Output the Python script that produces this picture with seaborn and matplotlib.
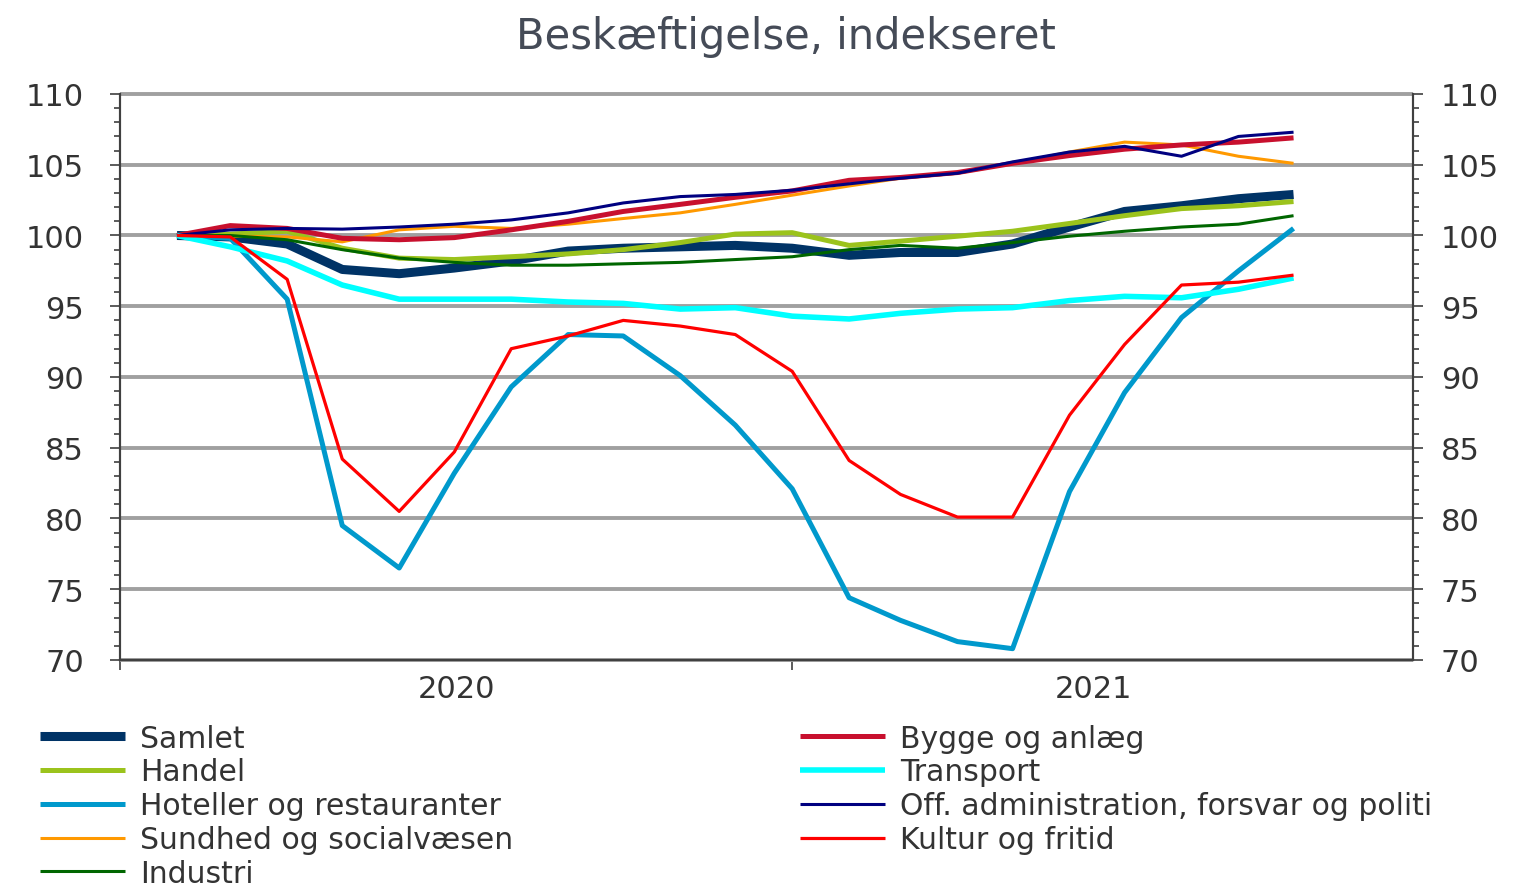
import numpy as np
import pandas as pd
import matplotlib
matplotlib.use("Agg")
import matplotlib.pyplot as plt
import matplotlib.dates as mdates
from matplotlib.ticker import MultipleLocator
import seaborn as sns

# data, index (feb 2020 = 100), monthly feb 2020 - okt 2021
dates = pd.date_range("2020-02-01", "2021-10-01", freq="MS")

samlet = [100, 99.9, 99.4, 97.6, 97.3, 97.7, 98.2, 98.9, 99.1, 99.2, 99.3,
          99.1, 98.6, 98.8, 98.8, 99.4, 100.6, 101.7, 102.1, 102.6, 102.9]
handel = [100, 100.1, 100.3, 99.1, 98.4, 98.3, 98.5, 98.7, 99.0, 99.5, 100.1,
          100.2, 99.3, 99.6, 99.95, 100.3, 100.85, 101.4, 101.9, 102.1, 102.4]
hoteller = [100, 99.8, 95.5, 79.5, 76.5, 83.2, 89.3, 93.0, 92.9, 90.1, 86.6,
            82.1, 74.4, 72.8, 71.3, 70.8, 81.9, 88.9, 94.2, 97.5, 100.5]
sundhed = [100, 99.95, 99.9, 99.55, 100.4, 100.65, 100.5, 100.8, 101.2, 101.6, 102.2,
           102.85, 103.5, 104.05, 104.4, 105.1, 105.9, 106.6, 106.4, 105.6, 105.1]
industri = [100, 100, 99.7, 99.0, 98.4, 98.1, 97.9, 97.9, 98.0, 98.1, 98.3,
            98.5, 99.0, 99.3, 99.1, 99.5, 99.95, 100.3, 100.6, 100.8, 101.4]
bygge = [100, 100.7, 100.5, 99.8, 99.7, 99.85, 100.4, 101.0, 101.7, 102.2, 102.7,
         103.15, 103.9, 104.1, 104.45, 105.1, 105.65, 106.1, 106.4, 106.6, 106.9]
transport = [100, 99.2, 98.2, 96.5, 95.5, 95.5, 95.5, 95.3, 95.2, 94.8, 94.9,
             94.3, 94.1, 94.5, 94.8, 94.9, 95.4, 95.7, 95.6, 96.2, 97.0]
off_adm = [100, 100.4, 100.5, 100.45, 100.6, 100.8, 101.1, 101.6, 102.3, 102.75, 102.9,
           103.2, 103.65, 104.05, 104.4, 105.2, 105.9, 106.3, 105.6, 107.0, 107.3]
kultur = [100, 99.9, 96.9, 84.2, 80.5, 84.7, 92.0, 92.9, 94.0, 93.6, 93.0,
          90.4, 84.1, 81.7, 80.1, 80.1, 87.3, 92.3, 96.5, 96.7, 97.2]

series = [
    ("Samlet", samlet, "#003366", 6.5),
    ("Handel", handel, "#9bc31c", 3.6),
    ("Hoteller og restauranter", hoteller, "#0099cc", 3.6),
    ("Sundhed og socialvæsen", sundhed, "#ff9900", 2.2),
    ("Industri", industri, "#006600", 2.2),
    ("Bygge og anlæg", bygge, "#c8102e", 3.6),
    ("Transport", transport, "#00ffff", 4.0),
    ("Off. administration, forsvar og politi", off_adm, "#000080", 2.2),
    ("Kultur og fritid", kultur, "#ff0000", 2.3),
]

sns.set_style("white")
plt.rcParams["font.family"] = ["DejaVu Sans"]
plt.rcParams["lines.solid_capstyle"] = "butt"
txt = "#333333"

fig = plt.figure(figsize=(15.16, 8.87), dpi=100)
ax = fig.add_axes([0.0792, 0.2548, 0.8528, 0.6381])

for name, vals, col, lw in series:
    sns.lineplot(x=dates, y=vals, ax=ax, color=col, linewidth=lw, label=name,
                 legend=False)

ax.set_ylim(70, 110)
ax.set_xlim(mdates.date2num(pd.Timestamp("2020-01-01")),
            mdates.date2num(pd.Timestamp("2021-12-05")))
ax.set_xlabel("")
ax.set_ylabel("")

# y axis both sides
ax.yaxis.set_major_locator(MultipleLocator(5))
ax.yaxis.set_minor_locator(MultipleLocator(1))
ax.tick_params(axis="y", which="major", length=7, width=1.2, color="#404040",
               labelsize=22, labelcolor=txt, pad=19, left=True)
ax.tick_params(axis="y", which="minor", length=4.5, width=1.2, color="#404040", left=True)
ax.yaxis.grid(True, color="#a0a0a0", linewidth=2.8)
ax.xaxis.grid(False)
for gl in ax.get_ygridlines():
    gl.set_clip_on(False)

ax2 = ax.twinx()
ax2.set_ylim(70, 110)
ax2.yaxis.set_major_locator(MultipleLocator(5))
ax2.yaxis.set_minor_locator(MultipleLocator(1))
ax2.tick_params(axis="y", which="major", length=7, width=1.2, color="#404040",
                labelsize=22, labelcolor=txt, pad=13, right=True)
ax2.tick_params(axis="y", which="minor", length=4.5, width=1.2, color="#404040", right=True)
ax2.grid(False)

# x axis: ticks at year boundaries, labels centred in each year
year_ticks = [pd.Timestamp("2020-01-01"), pd.Timestamp("2021-01-01")]
ax.set_xticks(mdates.date2num(year_ticks))
ax.set_xticklabels([])
label_pos = [pd.Timestamp("2020-07-02"), pd.Timestamp("2021-06-14")]
ax.set_xticks(mdates.date2num(label_pos), minor=True)
ax.set_xticklabels(["2020", "2021"], minor=True)
ax.tick_params(axis="x", which="major", length=7, width=1.2, color="#404040", bottom=True)
ax.tick_params(axis="x", which="minor", length=0, labelsize=22, labelcolor=txt, pad=10)

for a in (ax, ax2):
    a.spines["top"].set_visible(False)
    for s in ("left", "right", "bottom"):
        a.spines[s].set_color("#404040")
        a.spines[s].set_linewidth(1.5)

fig.text(0.5185, 0.958, "Beskæftigelse, indekseret", ha="center", va="center",
         fontsize=30, color="#454b57")

handles, labels = ax.get_legend_handles_labels()
leg_kw = dict(loc="upper left", frameon=False, fontsize=21.5, handlelength=2.85,
              handletextpad=0.5, labelspacing=0.16, borderpad=0, borderaxespad=0,
              labelcolor=txt)
fig.legend(handles[:5], labels[:5], bbox_to_anchor=(0.0264, 0.183), **leg_kw)
fig.legend(handles[5:], labels[5:], bbox_to_anchor=(0.5277, 0.183), **leg_kw)

fig.savefig("out.png", dpi=100)
